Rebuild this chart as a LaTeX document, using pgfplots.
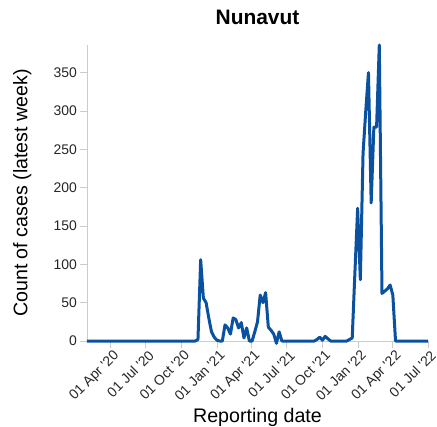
\documentclass[border=0pt]{standalone}
\usepackage{pgfplots}
\pgfplotsset{compat=1.18}
\usepackage{fontspec}
\setmainfont{Liberation Sans}
\definecolor{lineblue}{HTML}{0A519F}
\definecolor{axgray}{HTML}{CCCCCC}
\newcommand{\q}{\textquotesingle}
\begin{document}
\begin{tikzpicture}
\begin{axis}[
  scale only axis,
  width=341bp, height=296bp,
  xmin=-61, xmax=821,
  ymin=0, ymax=386,
  clip=false,
  axis x line*=bottom,
  axis y line*=left,
  axis line style={axgray, line width=0.8pt},
  tick style={axgray, line width=0.8pt},
  major tick length=7bp,
  tick align=outside,
  ytick={0,50,100,150,200,250,300,350},
  xtick={0,91,183,275,365,456,548,640,730,821},
  xticklabels={\mbox{01 Apr \q20}, \mbox{01 Jul \q20}, \mbox{01 Oct \q20}, \mbox{01 Jan \q21}, \mbox{01 Apr \q21}, \mbox{01 Jul \q21}, \mbox{01 Oct \q21}, \mbox{01 Jan \q22}, \mbox{01 Apr \q22}, \mbox{01 Jul \q22}},
  /pgf/number format/assume math mode=true,
  ticklabel style={font=\fontsize{14}{16}\selectfont, text=black!85},
  xticklabel style={rotate=45, anchor=north east, inner sep=0.5bp, xshift=1bp, yshift=-1.6bp},
  yticklabel style={inner sep=2bp, xshift=-1bp},
  xlabel={Reporting date},
  ylabel={Count of cases (latest week)},
  label style={font=\fontsize{19.7}{22}\selectfont},
  xlabel style={at={(axis description cs:0.5,-0.277)}, anchor=base},
  ylabel style={at={(axis description cs:-0.19,0.5)}, anchor=center},
  title={\textbf{Nunavut}},
  title style={font=\fontsize{21}{24}\selectfont, at={(rel axis cs:0.5,1)}, anchor=base, yshift=15bp},
]
\addplot[lineblue, line width=3bp, line join=round] table {
x y
-61 0
219 0
226 2
233 106
240 56
247 50
254 30
261 12
268 5
275 1
282 0
289 0
296 21
303 17
310 9
317 30
324 28
331 17
338 24
345 4
352 17
359 0
366 0
373 12
380 25
387 60
394 50
401 63
408 18
415 14
422 9
429 -3
436 12
443 0
527 0
534 2
541 5
548 1
555 6
562 3
569 0
611 0
618 2
625 4
632 90
639 173
646 80
653 245
660 300
667 350
674 180
681 279
688 279
695 386
702 62
709 65
716 68
723 73
730 60
737 0
821 0
};
\coordinate (sw) at (rel axis cs:0,0);
\end{axis}
\pgfresetboundingbox
\path ([shift={(-87bp,-86bp)}]sw) rectangle ([shift={(350bp,341bp)}]sw);
\end{tikzpicture}
\end{document}
